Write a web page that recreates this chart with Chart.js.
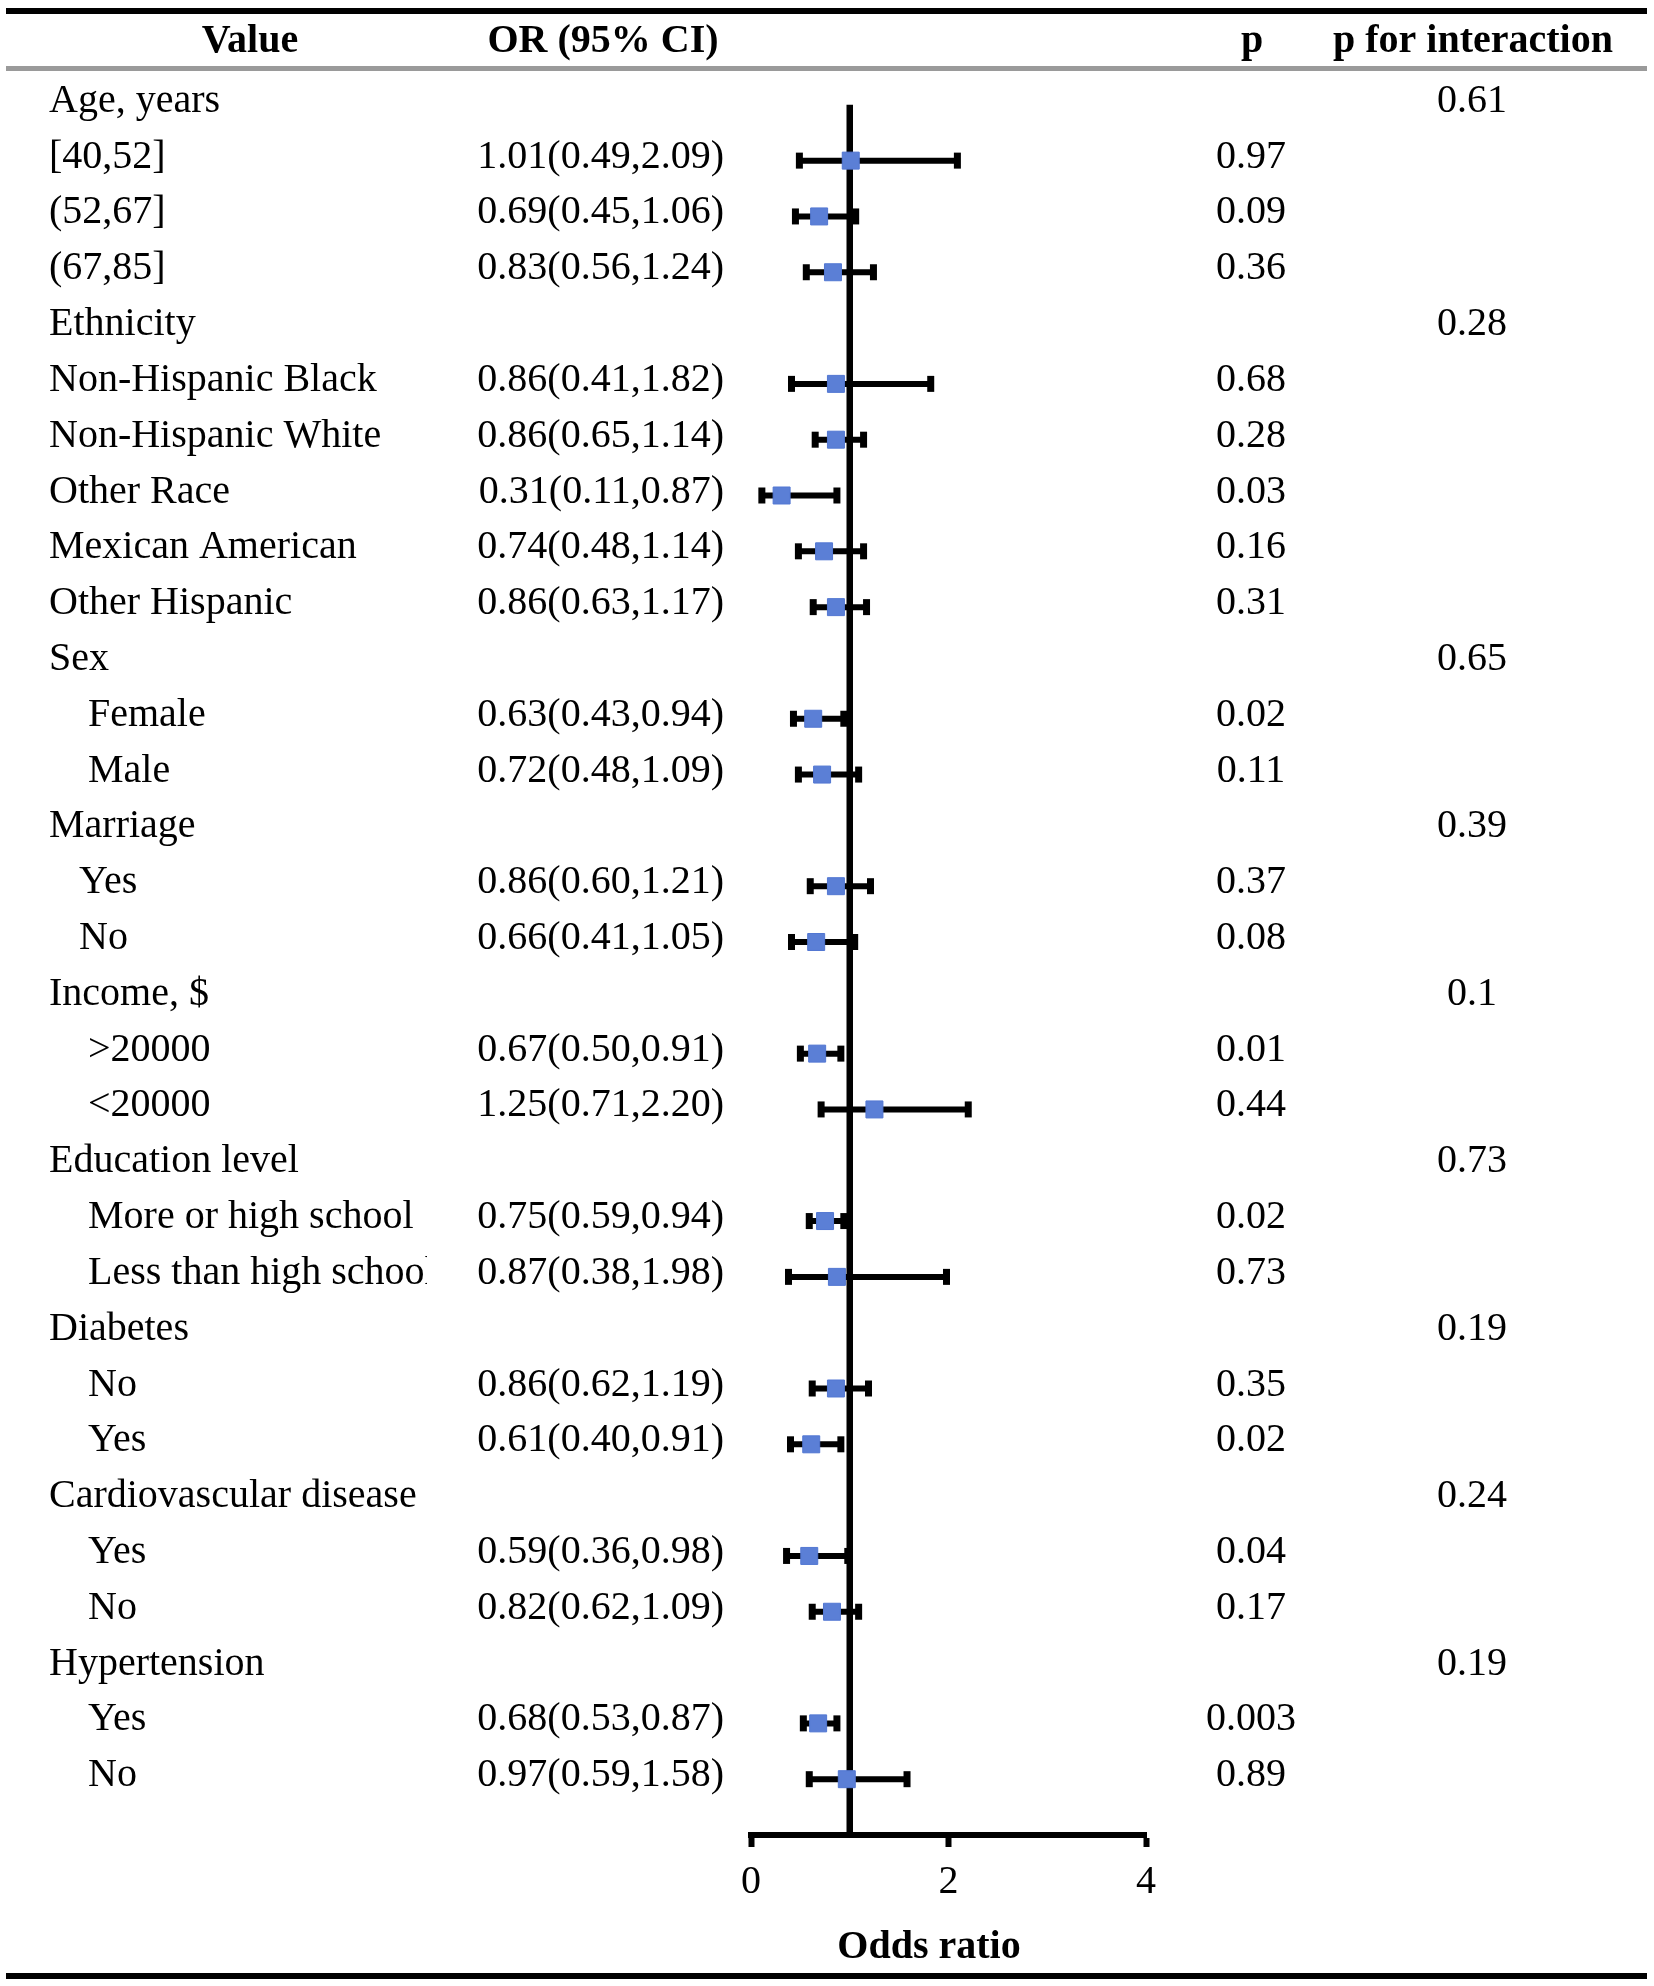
<!DOCTYPE html>
<html>
<head>
<meta charset="utf-8">
<title>Odds ratio forest plot</title>
<script src="https://cdn.jsdelivr.net/npm/chart.js@4.4.1/dist/chart.umd.min.js"></script>
<style>
  html, body { margin: 0; padding: 0; background: #fff; }
  canvas { display: block; }
</style>
</head>
<body>
<canvas id="forest" width="1654" height="1986" style="width:1654px;height:1986px"></canvas>
<script>
// rows of the table, top to bottom
const rowLabels = [
  'Age, years', '[40,52]', '(52,67]', '(67,85]',
  'Ethnicity', 'Non-Hispanic Black', 'Non-Hispanic White', 'Other Race', 'Mexican American', 'Other Hispanic',
  'Sex', 'Female', 'Male',
  'Marriage', 'Yes', 'No',
  'Income, $', '>20000', '<20000',
  'Education level', 'More or high school', 'Less than high school',
  'Diabetes', 'No', 'Yes',
  'Cardiovascular disease', 'Yes', 'No',
  'Hypertension', 'Yes', 'No'
];
// 0 = flush left, 1 = small indent, 2 = indent
const rowLevel = [0,0,0,0, 0,0,0,0,0,0, 0,2,2, 0,1,1, 0,2,2, 0,2,2, 0,2,2, 0,2,2, 0,2,2];

const oddsRatio = [null,1.01,0.69,0.83, null,0.86,0.86,0.31,0.74,0.86, null,0.63,0.72, null,0.86,0.66,
  null,0.67,1.25, null,0.75,0.87, null,0.86,0.61, null,0.59,0.82, null,0.68,0.97];
const ciLow = [null,0.49,0.45,0.56, null,0.41,0.65,0.11,0.48,0.63, null,0.43,0.48, null,0.60,0.41,
  null,0.50,0.71, null,0.59,0.38, null,0.62,0.40, null,0.36,0.62, null,0.53,0.59];
const ciHigh = [null,2.09,1.06,1.24, null,1.82,1.14,0.87,1.14,1.17, null,0.94,1.09, null,1.21,1.05,
  null,0.91,2.20, null,0.94,1.98, null,1.19,0.91, null,0.98,1.09, null,0.87,1.58];
const pValues = ['','0.97','0.09','0.36', '','0.68','0.28','0.03','0.16','0.31', '','0.02','0.11', '','0.37','0.08',
  '','0.01','0.44', '','0.02','0.73', '','0.35','0.02', '','0.04','0.17', '','0.003','0.89'];
const pInteraction = ['0.61','','','', '0.28','','','','','', '0.65','','', '0.39','','',
  '0.1','','', '0.73','','', '0.19','','', '0.24','','', '0.19','',''];

const headers = ['Value', 'OR (95% CI)', 'p', 'p for interaction'];
const xTicks = [0, 2, 4];
const xTitle = 'Odds ratio';

// build datasets
const markerData = [];
const barData = [];
for (let i = 0; i < rowLabels.length; i++) {
  if (oddsRatio[i] === null) continue;
  markerData.push({x: oddsRatio[i], y: i});
  barData.push({x: ciLow[i], y: i}, {x: ciHigh[i], y: i}, {x: null, y: null});
}

const SERIF = '"Liberation Serif", "Times New Roman", serif';
const indentX = [49, 79, 88];

const tablePlugin = {
  id: 'tableText',
  afterDraw(chart) {
    const c = chart.ctx;
    const yScale = chart.scales.y;
    c.save();
    c.fillStyle = '#000';

    // rules
    c.fillRect(6, 8, 1641, 6);
    c.fillStyle = '#9a9a9a';
    c.fillRect(6, 66, 1641, 5);
    c.fillStyle = '#000';
    c.fillRect(6, 1973, 1641, 6);

    // header
    c.font = 'bold 40px ' + SERIF;
    c.textBaseline = 'alphabetic';
    c.textAlign = 'center';
    const headX = [250, 603, 1252, 1473];
    headers.forEach((h, k) => c.fillText(h, headX[k], 52));

    // body
    c.font = '40px ' + SERIF;
    for (let i = 0; i < rowLabels.length; i++) {
      const y = yScale.getPixelForValue(i) + 7;
      c.textAlign = 'left';
      c.save();
      c.beginPath();
      c.rect(0, y - 50, 427, 70);
      c.clip();
      c.fillText(rowLabels[i], indentX[rowLevel[i]], y);
      c.restore();
      if (oddsRatio[i] !== null) {
        c.textAlign = 'right';
        const txt = oddsRatio[i].toFixed(2) + '(' + ciLow[i].toFixed(2) + ',' + ciHigh[i].toFixed(2) + ')';
        c.fillText(txt, 724, y);
      }
      c.textAlign = 'center';
      if (pValues[i]) c.fillText(pValues[i], 1251, y);
      if (pInteraction[i]) c.fillText(pInteraction[i], 1472, y);
    }

    // axis title
    c.font = 'bold 40px ' + SERIF;
    c.textAlign = 'center';
    c.fillText(xTitle, 929, 1958);
    c.restore();
  }
};

new Chart(document.getElementById('forest'), {
  type: 'scatter',
  data: {
    datasets: [
      {
        label: 'OR',
        data: markerData,
        order: 0,
        pointStyle: 'rect',
        pointRadius: 12,
        pointBackgroundColor: '#5b7fd6',
        pointBorderColor: '#5277d2',
        pointBorderWidth: 1
      },
      {
        label: '95% CI',
        data: barData,
        order: 1,
        showLine: true,
        spanGaps: false,
        borderColor: '#000',
        borderWidth: 6,
        pointStyle: 'line',
        pointRotation: 90,
        pointRadius: 8,
        pointBorderWidth: 7,
        pointBorderColor: '#000'
      },
      {
        label: 'reference',
        data: [{x: 1, y: 0}, {x: 1, y: 31}],
        order: 2,
        showLine: true,
        borderColor: '#000',
        borderWidth: 6.5,
        pointRadius: 0
      }
    ]
  },
  options: {
    responsive: false,
    animation: false,
    devicePixelRatio: 1,
    layout: { padding: { left: 751, right: 508, top: 49, bottom: 0 } },
    plugins: { legend: { display: false }, tooltip: { enabled: false } },
    scales: {
      x: {
        type: 'linear',
        min: 0,
        max: 4,
        afterFit(scale) { scale.height = 151; },
        afterBuildTicks(scale) { scale.ticks = xTicks.map(v => ({value: v})); },
        border: { display: true, color: '#000', width: 6 },
        grid: { drawOnChartArea: false, drawTicks: true, tickLength: 12, tickWidth: 6, tickColor: '#000' },
        ticks: { color: '#000', padding: 11, maxRotation: 0, font: { family: SERIF, size: 40 } }
      },
      y: {
        type: 'linear',
        min: -1,
        max: 31,
        reverse: true,
        display: false
      }
    }
  },
  plugins: [tablePlugin]
});
</script>
</body>
</html>
